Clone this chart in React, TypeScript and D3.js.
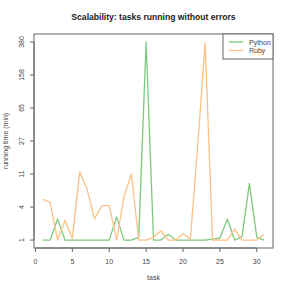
import { useEffect, useRef } from "react";
import * as d3 from "d3";

const tasks = [
  1, 2, 3, 4, 5, 6, 7, 8, 9, 10, 11, 12, 13, 14, 15, 16, 17, 18, 19, 20, 21,
  22, 23, 24, 25, 26, 27, 28, 29, 30, 31,
];
const python = [
  1, 1, 2.5, 1, 1, 1, 1, 1, 1, 1, 2.7, 1, 1, 1.15, 380, 1, 1, 1.34, 1, 1, 1,
  1, 1, 1.05, 1.1, 2.5, 1, 1.18, 8, 1.15, 1,
];
const ruby = [
  4.9, 4.4, 1, 2.37, 1.09, 11.2, 6.7, 2.5, 3.97, 3.97, 1, 5.3, 10.5, 1, 1,
  1.15, 1.56, 1, 1, 1.36, 1.05, 24, 370, 1, 1, 1, 1.68, 1, 1, 1, 1.34,
];
const seriesNames = ["Python", "Ruby"];
const seriesColors = ["#7fc97f", "#fdc086"];
const xTicks = [0, 5, 10, 15, 20, 25, 30];
const yTickLabels = [1, 4, 11, 27, 65, 158, 380];

const W = 291;
const H = 291;
const FONT = "'Liberation Sans', Arial, sans-serif";

export default function App() {
  const svgRef = useRef<SVGSVGElement>(null);

  useEffect(() => {
    if (!svgRef.current) return;
    const svg = d3.select(svgRef.current);
    svg.selectAll("*").remove();

    const margin = { top: 34, right: 18, bottom: 43, left: 34 };
    const x0 = margin.left;
    const x1 = W - margin.right;
    const y0 = margin.top;
    const y1 = H - margin.bottom;

    // R style 4% padding
    const [xmin, xmax] = d3.extent(tasks) as [number, number];
    const xpad = (xmax - xmin) * 0.04;
    const x = d3
      .scaleLinear()
      .domain([xmin - xpad, xmax + xpad])
      .range([x0, x1]);

    const tf = (v: number) => Math.log(v + 1);
    const all = python.concat(ruby);
    const tmin = tf(d3.min(all) || 1);
    const tmax = tf(d3.max(all) || 1);
    const ypad = (tmax - tmin) * 0.04;
    const y = d3
      .scaleLinear()
      .domain([tmin - ypad, tmax + ypad])
      .range([y1, y0]);

    // title
    svg
      .append("text")
      .attr("x", (x0 + x1) / 2)
      .attr("y", 20)
      .attr("text-anchor", "middle")
      .style("font-family", FONT)
      .style("font-weight", "bold")
      .style("font-size", "8.6px")
      .style("fill", "#222")
      .text("Scalability: tasks running without errors");

    // lines
    const line = d3
      .line<number>()
      .x((_d, i) => x(tasks[i]))
      .y((d) => y(tf(d)));

    [python, ruby].forEach((s, k) => {
      svg
        .append("path")
        .datum(s)
        .attr("d", line)
        .attr("fill", "none")
        .attr("stroke", seriesColors[k])
        .attr("stroke-width", 1.3)
        .attr("stroke-linejoin", "round");
    });

    // box
    svg
      .append("rect")
      .attr("x", x0)
      .attr("y", y0)
      .attr("width", x1 - x0)
      .attr("height", y1 - y0)
      .attr("fill", "none")
      .attr("stroke", "#666")
      .attr("stroke-width", 1);

    // x axis
    const gx = svg.append("g").attr("transform", `translate(0,${y1})`);
    gx.append("line")
      .attr("x1", x(xTicks[0]))
      .attr("x2", x(xTicks[xTicks.length - 1]))
      .attr("stroke", "#666");
    xTicks.forEach((t) => {
      gx.append("line")
        .attr("x1", x(t))
        .attr("x2", x(t))
        .attr("y1", 0)
        .attr("y2", 4)
        .attr("stroke", "#666");
      gx.append("text")
        .attr("x", x(t))
        .attr("y", 16)
        .attr("text-anchor", "middle")
        .style("font-family", FONT)
        .style("font-size", "7px")
        .style("fill", "#444")
        .text(t);
    });
    svg
      .append("text")
      .attr("x", (x0 + x1) / 2)
      .attr("y", 280)
      .attr("text-anchor", "middle")
      .style("font-family", FONT)
      .style("font-size", "7px")
      .style("fill", "#444")
      .text("task");

    // y axis (ticks evenly spaced in transformed space)
    const n = yTickLabels.length;
    const ta = tf(yTickLabels[0]);
    const tb = tf(yTickLabels[n - 1]);
    const gy = svg.append("g").attr("transform", `translate(${x0},0)`);
    gy.append("line")
      .attr("y1", y(ta))
      .attr("y2", y(tb))
      .attr("stroke", "#666");
    yTickLabels.forEach((lab, i) => {
      const yy = y(ta + ((tb - ta) * i) / (n - 1));
      gy.append("line")
        .attr("x1", 0)
        .attr("x2", -4)
        .attr("y1", yy)
        .attr("y2", yy)
        .attr("stroke", "#666");
      gy.append("text")
        .attr("transform", `translate(-10,${yy}) rotate(-90)`)
        .attr("text-anchor", "middle")
        .style("font-family", FONT)
        .style("font-size", "7px")
        .style("fill", "#444")
        .text(lab);
    });
    svg
      .append("text")
      .attr("transform", `translate(8,${(y0 + y1) / 2}) rotate(-90)`)
      .attr("text-anchor", "middle")
      .style("font-family", FONT)
      .style("font-size", "7px")
      .style("fill", "#444")
      .text("running time (min)");

    // legend
    const lw = 50;
    const lh = 25;
    const lg = svg.append("g").attr("transform", `translate(${x1 - lw},${y0})`);
    lg.append("rect")
      .attr("width", lw)
      .attr("height", lh)
      .attr("fill", "white")
      .attr("stroke", "#666");
    seriesNames.forEach((name, i) => {
      const ly = 8 + i * 8.5;
      lg.append("line")
        .attr("x1", 6)
        .attr("x2", 20)
        .attr("y1", ly)
        .attr("y2", ly)
        .attr("stroke", seriesColors[i])
        .attr("stroke-width", 1.3);
      lg.append("text")
        .attr("x", 26)
        .attr("y", ly + 2.5)
        .style("font-family", FONT)
        .style("font-size", "7px")
        .style("fill", "#444")
        .text(name);
    });
  }, []);

  return (
    <svg
      ref={svgRef}
      width={W}
      height={H}
      viewBox={`0 0 ${W} ${H}`}
      style={{ position: "absolute", left: 0, top: 0, background: "white" }}
    />
  );
}
